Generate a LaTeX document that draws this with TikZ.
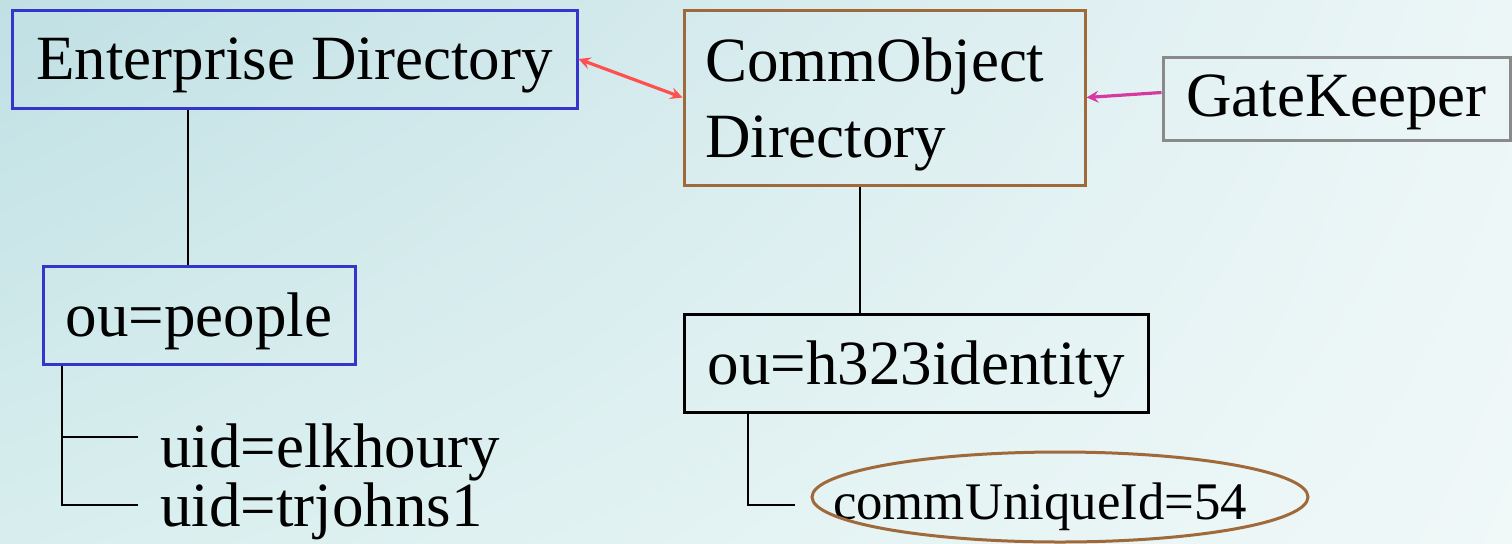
\documentclass[tikz,border=0pt]{standalone}
\usepackage{fontspec}
\setmainfont{Liberation Serif}
\usetikzlibrary{shadings}
\definecolor{entblue}{HTML}{3535CC}
\definecolor{objbrown}{HTML}{A0693A}
\definecolor{gkgray}{HTML}{8A8A8A}
\definecolor{linkred}{HTML}{FF5050}
\definecolor{linkpink}{HTML}{D63AA0}
\definecolor{bgul}{HTML}{C0E0E4}
\definecolor{bgur}{HTML}{ECF6F7}
\definecolor{bgll}{HTML}{D8EEEE}
\definecolor{bglr}{HTML}{F0F8F8}
\begin{document}
\begin{tikzpicture}[x=0.5pt,y=-0.5pt,
    dirbox/.style={draw=#1,line width=1.5pt,inner sep=0pt,text depth=0pt,font=\fontsize{31.5}{38}\selectfont},
    dirbox/.default=black,
    leaf/.style={anchor=base west,inner sep=0pt,font=\fontsize{31.5}{38}\selectfont},
    branch/.style={draw,black,line width=1.3pt}]
             \useasboundingbox (0,0) rectangle (1512,543);
             \shade[upper left=bgul,upper right=bgur,lower left=bgll,lower right=bglr]
                    (0,0) rectangle (1512,543);

             \node[dirbox=entblue,minimum width=282.5pt,minimum height=49pt] (EntDir) at (294.5,59) {Enterprise Directory};
             \node[dirbox=objbrown,minimum width=200.5pt,minimum height=87.5pt,text depth=,text height=28.5pt,
                   align=left,text width=179.5pt] (CommDir) at (884.5,97.5) {CommObject\\Directory};
             \node[dirbox=gkgray,minimum width=173.5pt,minimum height=41.5pt,text depth=3pt] (GateKeeper) at (1336.5,98.5) {GateKeeper};
             \node[dirbox=entblue,minimum width=156pt,minimum height=49pt] (People) at (199,315) {ou=people};
             \node[dirbox,minimum width=232pt,minimum height=49pt] (Identity) at (916,363) {ou=h323identity};
             \node[anchor=base,inner sep=0pt,font=\fontsize{26.4}{32}\selectfont] (UniqueId) at (1040,519) {commUniqueId=54};
             \coordinate (idcenter) at (1060,497);
             \draw[objbrown,line width=1.5pt] (idcenter) ellipse [x radius=124pt,y radius=22.5pt];

             \node[leaf] (Elkhoury) at (160,467) {uid=elkhoury};
             \node[leaf] (Trjohns) at (160,526) {uid=trjohns1};

             \draw [branch] (EntDir.south -| 188,0) -- (People.north -| 188,0);
             \draw [branch] (CommDir.south -| 860,0) -- (Identity.north -| 860,0);

             \coordinate (pplroot) at (People.south -| 62,0);
             \coordinate (idroot) at (Identity.south -| 748,0);
             \draw [branch] (pplroot) |- (138,437);
             \draw [branch] (pplroot) |- (138,505);
             \draw [branch] (idroot) |- (795,505);

             \draw [<->,>=stealth,linkred,line width=1.6pt] (EntDir.east) -- (CommDir.west);
             \draw [->,>=stealth,linkpink,line width=1.6pt] ([yshift=3pt]GateKeeper.west) -- (CommDir.east);

         \end{tikzpicture}
\end{document}
